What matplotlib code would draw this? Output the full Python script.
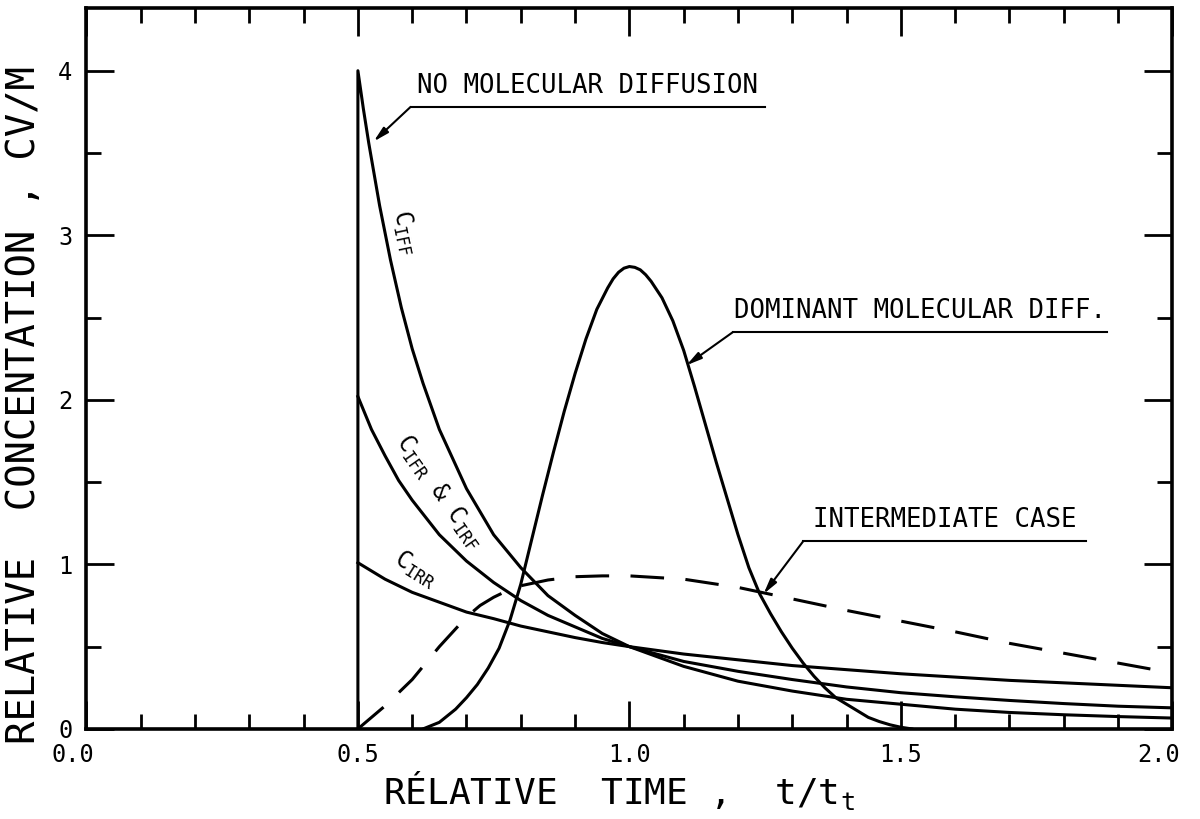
import numpy as np
import matplotlib
matplotlib.use("Agg")
from matplotlib import pyplot as plt
from matplotlib.ticker import MultipleLocator
import matplotlib.transforms as mtransforms

plt.rcParams["font.family"] = ["DejaVu Sans Mono", "DejaVu Sans"]
plt.rcParams["mathtext.fontset"] = "custom"
plt.rcParams["mathtext.rm"] = "DejaVu Sans Mono"

# Data (relative time t/tt, relative concentration CV/M)
t_iff = [0.5, 0.5, 0.51, 0.52, 0.54, 0.56, 0.58, 0.6, 0.62, 0.65, 0.7, 0.75, 0.8,
         0.85, 0.9, 0.95, 1.0, 1.1, 1.2, 1.3, 1.4, 1.5, 1.6, 1.7, 1.8, 1.9, 2.0]
c_iff = [0.0, 4.0, 3.77, 3.56, 3.18, 2.85, 2.56, 2.31, 2.10, 1.82, 1.46, 1.18, 0.98,
         0.81, 0.69, 0.58, 0.5, 0.38, 0.29, 0.23, 0.18, 0.15, 0.12, 0.10, 0.086, 0.075, 0.066]

t_ifr = [0.5, 0.525, 0.55, 0.575, 0.6, 0.65, 0.7, 0.75, 0.8, 0.85, 0.9, 0.95, 1.0,
         1.1, 1.2, 1.3, 1.4, 1.5, 1.6, 1.7, 1.8, 1.9, 2.0]
c_ifr = [2.02, 1.82, 1.66, 1.51, 1.39, 1.18, 1.02, 0.89, 0.78, 0.69, 0.62, 0.55, 0.5,
         0.41, 0.35, 0.30, 0.255, 0.22, 0.195, 0.173, 0.154, 0.138, 0.128]

t_irr = [0.5, 0.55, 0.6, 0.65, 0.7, 0.75, 0.8, 0.85, 0.9, 0.95, 1.0, 1.1, 1.2, 1.3,
         1.4, 1.5, 1.6, 1.7, 1.8, 1.9, 2.0]
c_irr = [1.01, 0.91, 0.83, 0.77, 0.71, 0.67, 0.625, 0.59, 0.555, 0.525, 0.5, 0.455,
         0.42, 0.385, 0.36, 0.335, 0.315, 0.295, 0.28, 0.265, 0.25]

t_dom = [0.62, 0.65, 0.68, 0.7, 0.72, 0.74, 0.76, 0.78, 0.8, 0.82, 0.84, 0.86, 0.88,
         0.9, 0.92, 0.94, 0.96, 0.97, 0.98, 0.99, 1.0, 1.01, 1.02, 1.03, 1.04, 1.06,
         1.08, 1.1, 1.12, 1.14, 1.16, 1.18, 1.2, 1.22, 1.24, 1.26, 1.28, 1.3, 1.32,
         1.34, 1.36, 1.38, 1.4, 1.42, 1.44, 1.46, 1.48, 1.5, 1.52]
c_dom = [0.0, 0.04, 0.12, 0.19, 0.27, 0.37, 0.49, 0.66, 0.88, 1.15, 1.42, 1.68, 1.93,
         2.16, 2.37, 2.55, 2.68, 2.735, 2.775, 2.8, 2.81, 2.805, 2.79, 2.76, 2.72, 2.62,
         2.48, 2.3, 2.08, 1.85, 1.62, 1.4, 1.18, 0.98, 0.82, 0.7, 0.59, 0.49, 0.4,
         0.32, 0.25, 0.19, 0.15, 0.11, 0.07, 0.045, 0.025, 0.01, 0.0]

t_int = [0.5, 0.55, 0.6, 0.65, 0.7, 0.725, 0.75, 0.775, 0.8, 0.85, 0.9, 0.95, 1.0,
         1.1, 1.2, 1.3, 1.4, 1.5, 1.6, 1.7, 1.8, 1.9, 2.0]
c_int = [0.0, 0.14, 0.3, 0.5, 0.68, 0.75, 0.8, 0.84, 0.87, 0.905, 0.925, 0.93, 0.93,
         0.91, 0.86, 0.79, 0.72, 0.655, 0.59, 0.52, 0.46, 0.40, 0.34]

xticks = [0.0, 0.5, 1.0, 1.5, 2.0]
xticklabels = ["0.0", "0.5", "1.0", "1.5", "2.0"]
yticks = [0, 1, 2, 3, 4]

fig = plt.figure(figsize=(12, 8.19), dpi=100)
ax = fig.add_axes([0.072, 0.11, 0.905, 0.88])

lw = 2.2
ax.plot(t_iff, c_iff, color="black", lw=lw)
ax.plot(t_ifr, c_ifr, color="black", lw=lw)
ax.plot(t_irr, c_irr, color="black", lw=lw)
ax.plot(t_dom, c_dom, color="black", lw=lw)
ax.plot(t_int, c_int, color="black", lw=lw, linestyle=(0, (11, 7)))

ax.set_xlim(0, 2.0)
ax.set_ylim(0, 4.38)

# ticks on all four sides, pointing in
ax.set_xticks(xticks)
ax.set_xticklabels(xticklabels)
ax.xaxis.set_minor_locator(MultipleLocator(0.1))
ax.set_yticks(yticks)
ax.yaxis.set_minor_locator(MultipleLocator(0.5))
ax.tick_params(which="both", direction="in", top=True, right=True, width=2, color="black")
ax.tick_params(which="major", length=20, labelsize=17)
ax.tick_params(which="minor", length=11)
ax.tick_params(axis="x", pad=10)
ax.tick_params(axis="y", pad=10)
for s in ax.spines.values():
    s.set_linewidth(2.6)

# end labels sit a little left of their ticks, as in the original
shift = mtransforms.ScaledTranslation(-0.14, 0, fig.dpi_scale_trans)
for lab in (ax.get_xticklabels()[0], ax.get_xticklabels()[-1]):
    lab.set_transform(lab.get_transform() + shift)

ax.set_xlabel("RÉLATIVE  TIME ,  t/t$_\\mathregular{t}$", fontsize=26)
ax.xaxis.set_label_coords(0.49, -0.056)
ax.xaxis.label.set_va("top")
ax.set_ylabel("RELATIVE  CONCENTATION , CV/M", fontsize=28)
ax.yaxis.set_label_coords(-0.04, 0.45)

# curve annotations with underline + arrow
arrow = dict(arrowstyle="-|>,head_length=0.9,head_width=0.22", color="black",
             lw=1.5, shrinkA=0, shrinkB=0)

def note(text, x0, x1, y_line, tip):
    ax.plot([x0, x1], [y_line, y_line], color="black", lw=1.5)
    ax.annotate("", xy=tip, xytext=(x0, y_line), arrowprops=arrow)
    ax.text((x0 + x1) / 2, y_line + 0.05, text, ha="center", va="bottom", fontsize=18.5)

note("NO MOLECULAR DIFFUSION", 0.597, 1.249, 3.78, (0.529, 3.57))
note("DOMINANT MOLECULAR DIFF.", 1.19, 1.88, 2.41, (1.105, 2.21))
note("INTERMEDIATE CASE", 1.32, 1.84, 1.14, (1.247, 0.82))

ax.text(0.585, 3.02, "C$_\\mathregular{IFF}$", rotation=-78, ha="center", va="center", fontsize=17)
ax.text(0.65, 1.44, "C$_\\mathregular{IFR}$ & C$_\\mathregular{IRF}$", rotation=-55,
        ha="center", va="center", fontsize=17)
ax.text(0.607, 0.97, "C$_\\mathregular{IRR}$", rotation=-32, ha="center", va="center", fontsize=17)

fig.savefig("out.png", dpi=100)
